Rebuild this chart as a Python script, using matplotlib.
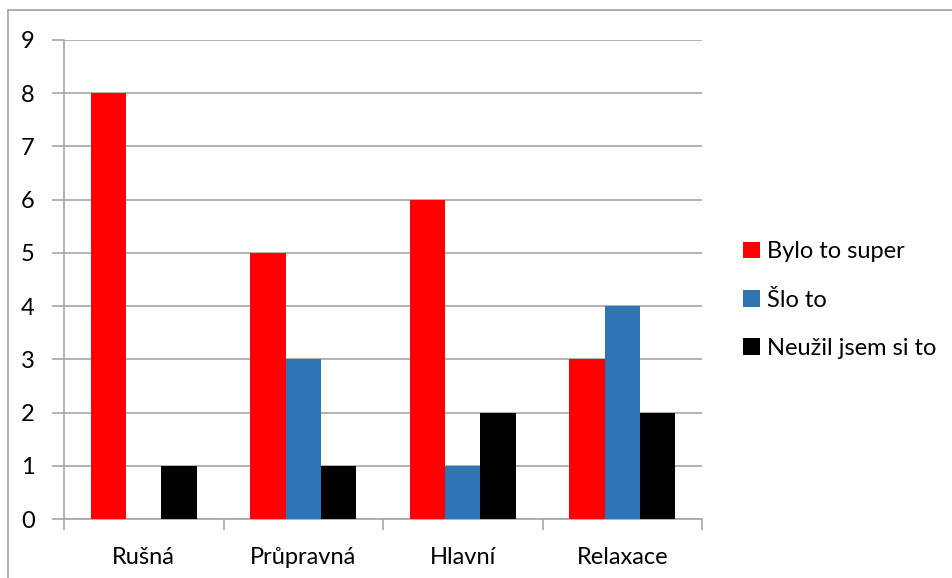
import matplotlib
matplotlib.use("Agg")
import matplotlib.pyplot as plt
import numpy as np
from matplotlib.patches import Rectangle

categories = ["Rušná", "Průpravná", "Hlavní", "Relaxace"]
series_names = ["Bylo to super", "Šlo to", "Neužil jsem si to"]
super_vals = [8, 5, 6, 3]
slo_vals = [0, 3, 1, 4]
neuzil_vals = [1, 1, 2, 2]
colors = ["#FF0000", "#2E75B6", "#000000"]
yticks = list(range(0, 10))

plt.rcParams['font.family'] = ['Lato', 'DejaVu Sans']
FS = 17

W, H = 953, 578
fig = plt.figure(figsize=(W / 100, H / 100), dpi=100)
ax = fig.add_axes([64 / W, 1 - 519 / H, (702 - 64) / W, (519 - 40) / H])

# outer chart frame
fig.patches.append(Rectangle((8 / W, -0.05), 1.2, 1 - 10 / H + 0.05, transform=fig.transFigure,
                             fill=False, edgecolor="#A0A0A0", linewidth=1.2))

x = np.arange(len(categories))
w = 1 / 4.5
series = [super_vals, slo_vals, neuzil_vals]
for i, (vals, name, c) in enumerate(zip(series, series_names, colors)):
    ax.bar(x + (i - 1) * w, vals, width=w, color=c, label=name, zorder=3)

ax.set_xlim(-0.5, len(categories) - 0.5)
ax.set_ylim(0, 9)
ax.set_yticks(yticks)
ax.set_yticklabels([str(v) for v in yticks], fontsize=FS)
ax.yaxis.grid(True, color="#A6A6A6", linewidth=1.2, zorder=0)
ax.tick_params(axis='y', length=9, color="#A6A6A6", width=1.2, pad=12)

ax.set_xticks(x)
ax.set_xticklabels(categories, fontsize=FS)
ax.set_xticks(np.arange(-0.5, len(categories) + 0.5, 1), minor=True)
ax.tick_params(axis='x', which='major', length=0, pad=20)
ax.tick_params(axis='x', which='minor', length=8, color="#A6A6A6", width=1.2)

for s in ["top", "right"]:
    ax.spines[s].set_visible(False)
for s in ["left", "bottom"]:
    ax.spines[s].set_color("#A6A6A6")
    ax.spines[s].set_linewidth(1.2)

leg = fig.legend(loc="upper left", bbox_to_anchor=(734 / W, 1 - 232 / H), frameon=False,
                 fontsize=FS, handlelength=0.7, handleheight=0.7, handletextpad=0.3,
                 labelspacing=1.15, borderaxespad=0)

fig.savefig("out.png", dpi=100)
